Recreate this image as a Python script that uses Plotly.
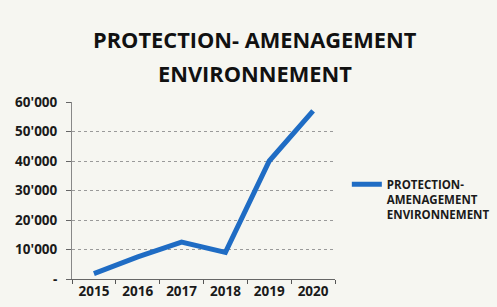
import plotly.graph_objects as go

years = ["2015", "2016", "2017", "2018", "2019", "2020"]
values = [1800, 7500, 12500, 9000, 40000, 57000]
series_name = "<b>PROTECTION-<br>AMENAGEMENT<br>ENVIRONNEMENT</b>"
title_lines = ["PROTECTION- AMENAGEMENT", "ENVIRONNEMENT"]
tick_vals = [0, 10000, 20000, 30000, 40000, 50000, 60000]
tick_text = ["<b>-</b>", "<b>10'000</b>", "<b>20'000</b>", "<b>30'000</b>",
             "<b>40'000</b>", "<b>50'000</b>", "<b>60'000</b>"]

fig = go.Figure()
fig.add_trace(go.Scatter(
    x=years, y=values, mode="lines", name=series_name,
    line=dict(color="#1f6cc4", width=5),
))

for txt, yp in zip(title_lines, [39, 73]):
    fig.add_annotation(
        text="<b>" + txt + "</b>", xref="paper", yref="paper",
        x=(255 - 72) / (497 - 72 - 162), y=(307 - 28 - yp) / (307 - 102 - 28),
        xanchor="center", yanchor="middle", showarrow=False,
        font=dict(size=21.8, family="Open Sans", color="#111111"),
    )

fig.update_layout(
    width=497, height=307,
    margin=dict(l=72, r=162, t=102, b=28, autoexpand=False),
    paper_bgcolor="#f6f6f1",
    plot_bgcolor="#f6f6f1",
    font=dict(family="Open Sans", color="#1a1a1a"),
    showlegend=True,
    legend=dict(
        x=1.045, xanchor="left", y=0.45, yanchor="middle",
        valign="top",
        bgcolor="rgba(0,0,0,0)",
        font=dict(size=11.5, family="Open Sans", color="#1a1a1a"),
        itemwidth=30,
    ),
    xaxis=dict(
        type="category", tickson="boundaries", ticks="outside", ticklen=4,
        tickcolor="#555", showline=True, linecolor="#666", linewidth=1,
        showgrid=False, tickfont=dict(size=13.5, family="Open Sans", color="#1a1a1a"),
        tickprefix="<b>", ticksuffix="</b>", automargin=False,
        range=[-0.5, 5.5],
    ),
    yaxis=dict(
        range=[0, 60000], tickvals=tick_vals, ticktext=tick_text,
        ticks="outside", ticklen=5, tickcolor="#666",
        ticklabelstandoff=6, automargin=False,
        showline=True, linecolor="#888", linewidth=1,
        showgrid=True, gridcolor="#9a9a9a", griddash="dot", gridwidth=1,
        zeroline=False,
        tickfont=dict(size=13.5, family="Open Sans", color="#1a1a1a"),
    ),
)

fig.write_html("out.html", config={"displayModeBar": False},
               post_script="document.body.style.margin='0';")
